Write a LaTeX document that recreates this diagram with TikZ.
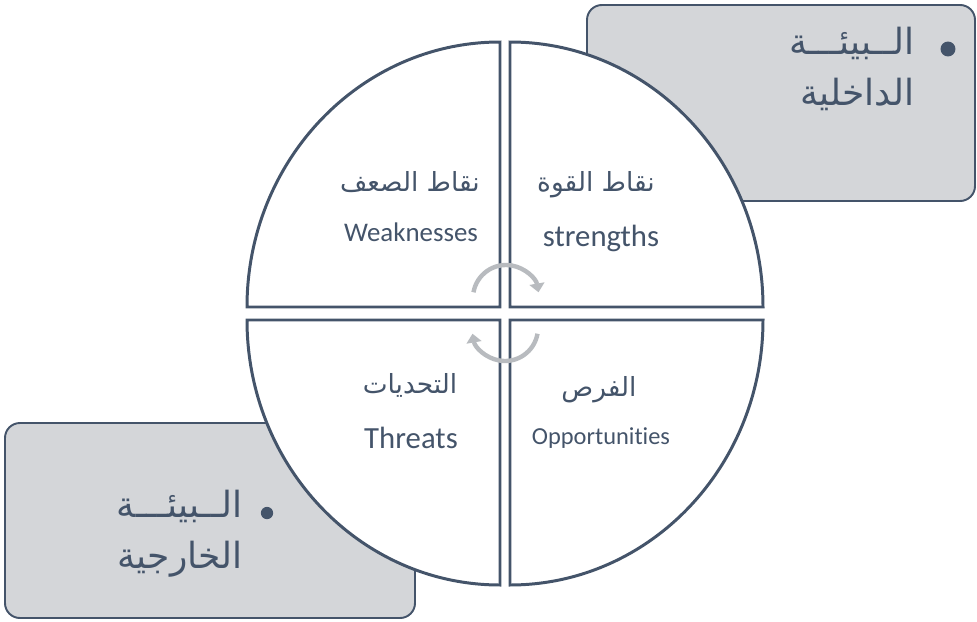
\documentclass[tikz,border=0pt]{standalone}
\usepackage{fontspec}
\setmainfont{Carlito}[Ligatures=NoCommon]
\newfontfamily\arabicfont[Script=Arabic]{DejaVu Sans}
\TeXXeTstate=1
\usetikzlibrary{arrows.meta}
\definecolor{ardosia}{HTML}{44546A}
\definecolor{painel}{HTML}{D4D6D9}
\definecolor{ciclocinza}{HTML}{B8BBBF}
\tikzset{%
  painel/.style={draw=ardosia,fill=painel,line width=1.1pt,rounded corners=8.5pt},
  quadrante/.style={draw=ardosia,fill=white,line width=1.7pt,line join=miter},
  ciclo/.style={draw=ciclocinza,line width=2.5pt,arrows=-{Triangle[width=8.5pt,length=5pt]}},
  marcador/.style={fill=ardosia,circle,inner sep=0pt,minimum size=#1},
  rotulo/.style={text=ardosia,inner sep=0pt},
  arabe/.style={rotulo,font=\arabicfont\fontsize{#1}{#1}\selectfont},
  latino/.style={rotulo,font=\fontsize{#1}{#1}\selectfont},
  ambiente/.style={text=ardosia,inner sep=0pt,align=right,font=\arabicfont\fontsize{20.5}{29}\selectfont}
}

\begin{document}
\begin{tikzpicture}[x=0.02cm,y=-0.02cm]
  \useasboundingbox (0,0) rectangle (977,622);
  % caixas do ambiente interno e externo
  \draw[painel] (587,5) rectangle (975,201);
  \draw[painel] (5,423) rectangle (415,618);
  % os quatro quadrantes
  \draw[quadrante] (500,307) -- (247,307) arc[start angle=180,end angle=270,x radius=253,y radius=265] -- cycle;
  \draw[quadrante] (510,307) -- (510,42) arc[start angle=270,end angle=360,x radius=253,y radius=265] -- cycle;
  \draw[quadrante] (510,320) -- (763,320) arc[start angle=0,end angle=90,x radius=253,y radius=265] -- cycle;
  \draw[quadrante] (500,320) -- (500,585) arc[start angle=90,end angle=180,x radius=253,y radius=265] -- cycle;
  % setas circulares no centro
  \draw[ciclo] (506,298) ++(190:33) arc[start angle=190,end angle=350,radius=33];
  \draw[ciclo] (505,328) ++(10:33) arc[start angle=10,end angle=170,radius=33];
  % textos dos quadrantes
  \node[arabe=15] (fraquezaar) at (410,182) {\beginR نقاط الصعف\endR};
  \node[latino=15.3] (fraqueza) at (411,232) {Weaknesses};
  \node[arabe=15] (forcaar) at (596,185) {\beginR نقاط القوة\endR};
  \node[latino=17.5] (forca) at (601,238) {strengths};
  \node[arabe=15] (ameacaar) at (410,385) {\beginR التحديات\endR};
  \node[latino=17.5] (ameaca) at (411,438) {Threats};
  \node[arabe=15] (oportar) at (599,390) {\beginR الفرص\endR};
  \node[latino=13.9] (oport) at (601,438) {Opportunities};
  % textos das caixas
  \node[marcador=8.5pt] (bolinterno) at (948,49) {};
  \node[ambiente,anchor=north east] (interno) at (915,27) {\beginR الــبيئـــة\endR\\\beginR الداخلية\endR};
  \node[marcador=7pt] (bolexterno) at (267,513) {};
  \node[ambiente,anchor=north east] (externo) at (243,490) {\beginR الــبيئـــة\endR\\\beginR الخارجية\endR};
\end{tikzpicture}
\end{document}
